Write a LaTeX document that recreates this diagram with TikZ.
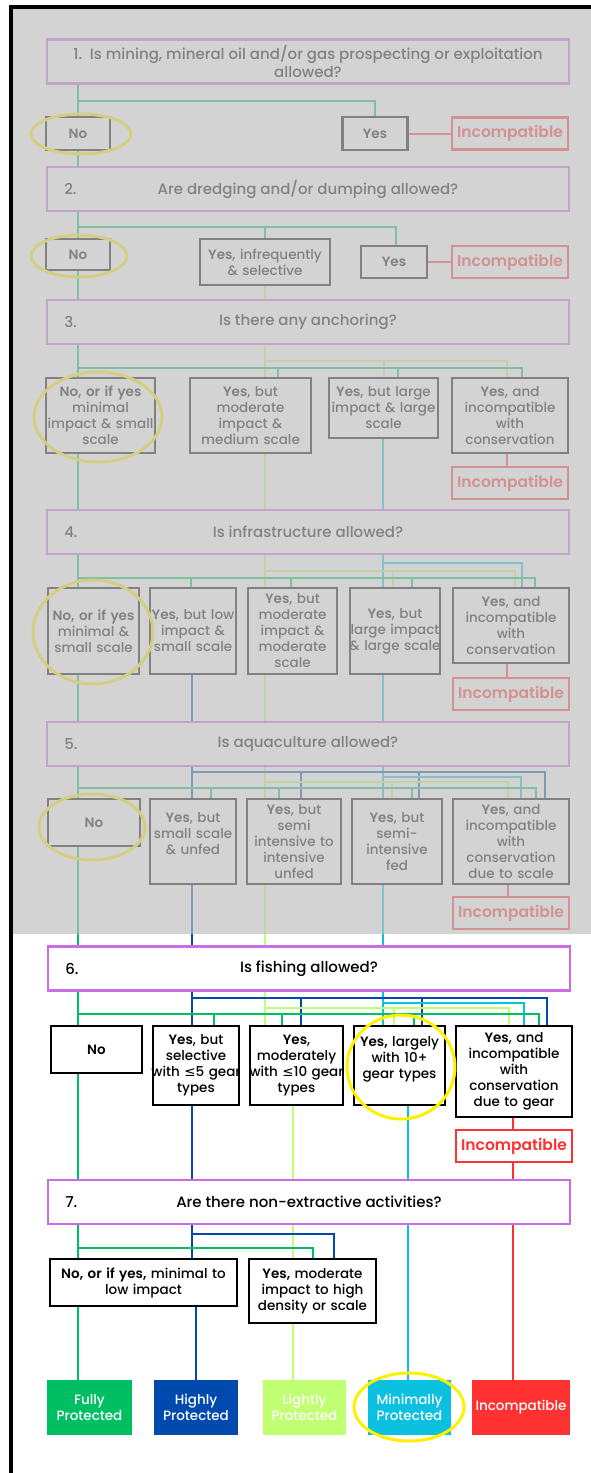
\documentclass[tikz,border=0pt]{standalone}
\usepackage{fontspec}
\setmainfont{Poppins}[UprightFont={* Medium}, BoldFont={* SemiBold}]
\newfontfamily\lefont{DejaVu Sans}
\usetikzlibrary{calc}

\definecolor{fpgreen}{HTML}{00BF63}
\definecolor{hpblue}{HTML}{004AAD}
\definecolor{lpgreen}{HTML}{C1FF72}
\definecolor{mpcyan}{HTML}{0CC0DF}
\definecolor{incred}{HTML}{FF3131}
\definecolor{qpurple}{HTML}{CB6CE6}
\definecolor{hlyellow}{HTML}{FFF000}
\definecolor{fadegray}{HTML}{BFBFBF}

\newcommand\boxfont{\fontsize{13.5}{16}\selectfont}
\newcommand\qfont{\fontsize{15}{18}\selectfont}
\newcommand\wide[1]{\makebox[0pt]{#1}}

\tikzset{
  qbox/.style={draw=qpurple, line width=2.5, fill=white, minimum width=522, minimum height=44, align=center, inner sep=1, font=\qfont},
  numlbl/.style={anchor=west, xshift=15, font=\qfont},
  abox/.style={draw=black, line width=2.5, fill=white, align=center, inner sep=2, font=\boxfont},
  ynbox/.style={abox, font=\boxfont\bfseries},
  incbox/.style={draw=incred, line width=2.5, fill=white, text=incred, font=\fontsize{15.5}{18}\selectfont\bfseries, minimum width=116, minimum height=32, inner sep=0},
  endbox/.style={fill=#1, text=white, minimum height=55, align=center, inner sep=1, font=\boxfont},
  gline/.style={draw=fpgreen, line width=2},
  bline/.style={draw=hpblue, line width=2},
  lline/.style={draw=lpgreen, line width=2},
  cline/.style={draw=mpcyan, line width=2},
  rline/.style={draw=incred, line width=2},
  hilite/.style={draw=hlyellow, line width=3},
}

\begin{document}
\begin{tikzpicture}[x=1pt, y=-1pt]
\useasboundingbox (0,0) rectangle (591,1473);
\fill[white] (0,0) rectangle (591,1473);

% columns
\coordinate (cg) at (78,0);
\coordinate (cb) at (192,0);
\coordinate (cl) at (265,0);
\coordinate (cc) at (383,0);
\coordinate (cl2) at (293,0);
\coordinate (cc2) at (408,0);
\coordinate (cr2) at (513,0);

% questions
\node[qbox] (q1) at (308,61.5) {1.\ \ Is mining, mineral oil and/or gas prospecting or exploitation\\allowed?};
\node[qbox, label={[numlbl]west:2.}] (q2) at (308,189) {Are dredging and/or dumping allowed?};
\node[qbox, label={[numlbl]west:3.}] (q3) at (308,322) {Is there any anchoring?};
\node[qbox, label={[numlbl]west:4.}] (q4) at (308,532) {Is infrastructure allowed?};
\node[qbox, label={[numlbl]west:5.}] (q5) at (308,744) {Is aquaculture allowed?};
\node[qbox, label={[numlbl]west:6.}] (q6) at (309,968.5) {Is fishing allowed?};
\node[qbox, label={[numlbl]west:7.}] (q7) at (309,1202) {Are there non-extractive activities?};

% row 1
\node[ynbox, minimum width=64, minimum height=33] (no1) at (78,133.5) {No};
\node[ynbox, minimum width=65, minimum height=33] (yes1) at (375,133.5) {Yes};
\node[incbox] (inc1) at (510,133.5) {Incompatible};

% row 2
\node[ynbox, minimum width=64, minimum height=31] (no2) at (78,254.5) {No};
\node[abox, text width=126, minimum height=46] (yesinf) at (265,262) {\wide{\textbf{Yes}, infrequently}\\\& selective};
\node[ynbox, minimum width=66, minimum height=32] (yes2) at (394,262) {Yes};
\node[incbox] (inc2) at (510,262) {Incompatible};

% row 3
\node[abox, text width=105, minimum height=75] (a3) at (100.5,415.5) {\wide{\textbf{No, or if yes}}\\minimal\\\wide{impact \& small}\\scale};
\node[abox, text width=117, minimum height=75] (b3) at (250.5,415.5) {\textbf{Yes}, but\\moderate\\impact \&\\\wide{medium scale}};
\node[abox, text width=105, minimum height=60] (c3) at (383.5,408) {\wide{\textbf{Yes}, but large}\\\wide{impact \& large}\\scale};
\node[abox, text width=112, minimum height=75] (d3) at (510,415.5) {\textbf{Yes}, and\\incompatible\\with\\\wide{conservation}};
\node[incbox] (inc3) at (510,483) {Incompatible};

% row 4
\node[abox, text width=87, minimum height=86] (a4) at (93.5,631) {\wide{\textbf{No, or if yes}}\\minimal \&\\\wide{small scale}};
\node[abox, text width=82, minimum height=86] (b4) at (193,631) {\wide{\textbf{Yes}, but low}\\impact \&\\\wide{small scale}};
\node[abox, text width=85, minimum height=86] (c4) at (292.5,631) {\textbf{Yes}, but\\moderate\\impact \&\\moderate\\scale};
\node[abox, text width=86, minimum height=86] (d4) at (395,631) {\textbf{Yes}, but\\\wide{large impact}\\\wide{\& large scale}};
\node[abox, text width=112, minimum height=75] (e4) at (511,625.5) {\textbf{Yes}, and\\incompatible\\with\\\wide{conservation}};
\node[incbox] (inc4) at (511,694) {Incompatible};

% row 5
\node[ynbox, minimum width=92, minimum height=47] (a5) at (94,822.5) {No};
\node[abox, text width=82, minimum height=85] (b5) at (193,841.5) {\textbf{Yes}, but\\\wide{small scale}\\\& unfed\\\mbox{}};
\node[abox, text width=90, minimum height=85] (c5) at (294,841.5) {\textbf{Yes}, but\\semi\\\wide{intensive to}\\intensive\\unfed};
\node[abox, text width=86, minimum height=85] (d5) at (397,841.5) {\textbf{Yes}, but\\semi-\\intensive\\fed};
\node[abox, text width=112, minimum height=85] (e5) at (511,841.5) {\textbf{Yes}, and\\incompatible\\with\\\wide{conservation}\\due to scale};
\node[incbox] (inc5) at (511,913) {Incompatible};

% row 6
\node[ynbox, minimum width=91, minimum height=47] (a6) at (96.5,1049.5) {No};
\node[abox, text width=82, minimum height=79] (b6) at (196,1065.5) {\textbf{Yes}, but\\selective\\\wide{with {\lefont ≤}5 gear}\\types};
\node[abox, text width=89, minimum height=79] (c6) at (296.5,1065.5) {\textbf{Yes},\\\wide{moderately}\\\wide{with {\lefont ≤}10 gear}\\types};
\node[abox, text width=87, minimum height=79] (d6) at (399.5,1065.5) {\wide{\textbf{Yes,} largely}\\with 10+\\\wide{gear types}\\\mbox{}};
\node[abox, text width=112, minimum height=91] (e6) at (514,1071.5) {\textbf{Yes}, and\\incompatible\\with\\\wide{conservation}\\\wide{due to gear}};
\node[incbox] (inc6) at (514,1146) {Incompatible};

% row 7
\node[abox, text width=183, minimum height=47] (a7) at (143.5,1282.5) {\wide{\textbf{No, or if yes,} minimal to}\\low impact};
\node[abox, text width=123, minimum height=64] (b7) at (312.5,1291) {\wide{\textbf{Yes,} moderate}\\\wide{impact to high}\\\wide{density or scale}};

% outcomes
\node[endbox=fpgreen, minimum width=85] (fp) at (89.5,1407.5) {Fully\\Protected};
\node[endbox=hpblue, minimum width=84] (hp) at (196,1407.5) {Highly\\Protected};
\node[endbox=lpgreen, minimum width=83] (lp) at (304.5,1407.5) {Lightly\\Protected};
\node[endbox=mpcyan, minimum width=83] (mp) at (409.5,1407.5) {Minimally\\Protected};
\node[endbox=incred, minimum width=98] (incf) at (521,1407.5) {Incompatible};

% bus points
\coordinate (j1) at (78,101);
\coordinate (j2) at (78,227);
\coordinate (busl3) at (265,361);
\coordinate (busg3) at (78,368);
\coordinate (busc4) at (383,563);
\coordinate (busl4) at (265,571);
\coordinate (busg4) at (78,578);
\coordinate (busb5) at (192,772);
\coordinate (busc5) at (383,777);
\coordinate (busl5) at (265,782);
\coordinate (busg5) at (78,788);
\coordinate (busb6) at (192,998);
\coordinate (busc6) at (383,1003);
\coordinate (busl6) at (265,1008);
\coordinate (busg6) at (78,1014);
\coordinate (busb7) at (192,1234);
\coordinate (busg7) at (78,1248);

% question 1
\draw[gline] (q1.south -| cg) -- (no1.north -| cg);
\draw[gline] (j1) -| (yes1.north);
\draw[rline] (yes1.east) -- (inc1.west);
\draw[gline] (no1.south -| cg) -- (q2.north -| cg);

% question 2
\draw[gline] (q2.south -| cg) -- (no2.north -| cg);
\draw[gline] (j2) -| (yesinf.north) (j2) -| ([xshift=2]yes2.north);
\draw[rline] (yes2.east) -- (inc2.west);
\draw[gline] (no2.south -| cg) -- (q3.north -| cg);
\draw[lline] (yesinf.south) -- (q3.north -| yesinf);

% question 3
\draw[gline] (q3.south -| cg) -- (a3.north -| cg);
\draw[lline] (q3.south -| cl) -- (b3.north -| cl);
\draw[lline] (busl3) -| (c3.north) (busl3) -| ([xshift=-3]d3.north);
\draw[gline] (busg3) -| ([xshift=27.5]b3.north) (busg3) -| ([xshift=14.5]c3.north) (busg3) -| ([xshift=12]d3.north);
\draw[gline] (a3.south -| cg) -- (q4.north -| cg);
\draw[lline] (b3.south -| cl) -- (q4.north -| cl);
\draw[cline] (c3.south -| cc) -- (q4.north -| cc);
\draw[rline] ([xshift=-3]d3.south) -- ([xshift=-3]inc3.north);

% question 4
\draw[gline] (q4.south -| cg) -- (a4.north -| cg);
\draw[lline] (q4.south -| cl) -- (c4.north -| cl);
\draw[cline] (q4.south -| cc) -- (d4.north -| cc);
\draw[cline] (busc4) -| ([xshift=11]e4.north);
\draw[lline] (busl4) -| ([xshift=-2]d4.north) (busl4) -| ([xshift=4]e4.north);
\draw[gline] (busg4) -| ([xshift=-2]b4.north) (busg4) -| ([xshift=-1.5]c4.north) (busg4) -| ([xshift=17]d4.north) (busg4) -| ([xshift=24]e4.north);
\draw[gline] (a4.south -| cg) -- (q5.north -| cg);
\draw[bline] (b4.south -| cb) -- (q5.north -| cb);
\draw[lline] (c4.south -| cl) -- (q5.north -| cl);
\draw[cline] (d4.south -| cc) -- (q5.north -| cc);
\draw[rline] ([xshift=-4]e4.south) -- ([xshift=-4]inc4.north);

% question 5
\draw[gline] (q5.south -| cg) -- (a5.north -| cg);
\draw[bline] (q5.south -| cb) -- (b5.north -| cb);
\draw[lline] (q5.south -| cl) -- (c5.north -| cl);
\draw[cline] (q5.south -| cc) -- (d5.north -| cc);
\draw[bline] (busb5) -| ([xshift=7]c5.north) (busb5) -| ([xshift=22]d5.north) (busb5) -| ([xshift=34]e5.north);
\draw[cline] (busc5) -| ([xshift=10]e5.north);
\draw[lline] (busl5) -| ([xshift=-5]d5.north) (busl5) -| ([xshift=-3]e5.north);
\draw[gline] (busg5) -| ([xshift=18]b5.north) (busg5) -| ([xshift=-15]c5.north) (busg5) -| ([xshift=15]d5.north) (busg5) -| ([xshift=25]e5.north);
\draw[gline] (a5.south -| cg) -- (q6.north -| cg);
\draw[bline] (b5.south -| cb) -- (q6.north -| cb);
\draw[lline] (c5.south -| cl) -- (q6.north -| cl);
\draw[cline] (d5.south -| cc) -- (q6.north -| cc);
\draw[rline] ([xshift=-3]e5.south) -- ([xshift=-3]inc5.north);

% question 6
\draw[gline] (q6.south -| cg) -- (a6.north -| cg);
\draw[bline] (q6.south -| cb) -- (b6.north -| cb);
\draw[lline] (q6.south -| cl) -- (c6.north -| cl);
\draw[cline] (q6.south -| cc) -- (d6.north -| cc);
\draw[bline] (busb6) -| ([xshift=4.5]c6.north) (busb6) -| ([xshift=22.5]d6.north) (busb6) -| ([xshift=33]e6.north);
\draw[cline] (busc6) -| ([xshift=10]e6.north);
\draw[lline] (busl6) -| ([xshift=-5.5]d6.north) (busl6) -| ([xshift=-5]e6.north);
\draw[gline] (busg6) -| ([xshift=18]b6.north) (busg6) -| ([xshift=-14.5]c6.north) (busg6) -| ([xshift=14.5]d6.north) (busg6) -| ([xshift=25]e6.north);
\draw[gline] (a6.south -| cg) -- (q7.north -| cg);
\draw[bline] (b6.south -| cb) -- (q7.north -| cb);
\draw[lline] (c6.south -| cl2) -- (q7.north -| cl2);
\draw[cline] (d6.south -| cc2) -- (q7.north -| cc2);
\draw[rline] (e6.south -| cr2) -- (inc6.north -| cr2);
\draw[rline] (inc6.south -| cr2) -- (q7.north -| cr2);

% question 7
\draw[gline] (q7.south -| cg) -- (a7.north -| cg);
\draw[bline] (q7.south -| cb) -- (a7.north -| cb);
\draw[lline] (q7.south -| cl2) -- (b7.north -| cl2);
\draw[bline] (busb7) -| ([xshift=21.5]b7.north);
\draw[gline] (busg7) -| (b7.north);
\draw[cline] (q7.south -| cc2) -- (mp.north -| cc2);
\draw[rline] (q7.south -| cr2) -- (incf.north -| cr2);
\draw[gline] (a7.south -| cg) -- (fp.north -| cg);
\draw[bline] (a7.south -| hp) -- (hp.north);
\draw[lline] (b7.south -| cl2) -- (lp.north -| cl2);

% highlighted answers
\draw[hilite] (81,134) ellipse [x radius=50, y radius=20];
\draw[hilite] (79,256) ellipse [x radius=48, y radius=21];
\draw[hilite] (98,417) ellipse [x radius=64, y radius=45];
\draw[hilite] (93,632) ellipse [x radius=60, y radius=52];
\draw[hilite] (92,827) ellipse [x radius=53, y radius=33];
\draw[hilite] (401,1067) ellipse [x radius=54, y radius=52];
\draw[hilite] (409,1407) ellipse [x radius=55, y radius=34];

% faded part
\fill[fadegray, opacity=0.68] (11,7) rectangle (591,934);
\draw[line width=3.5] (11,1473) -- (11,7) -- (591,7);
\end{tikzpicture}
\end{document}
